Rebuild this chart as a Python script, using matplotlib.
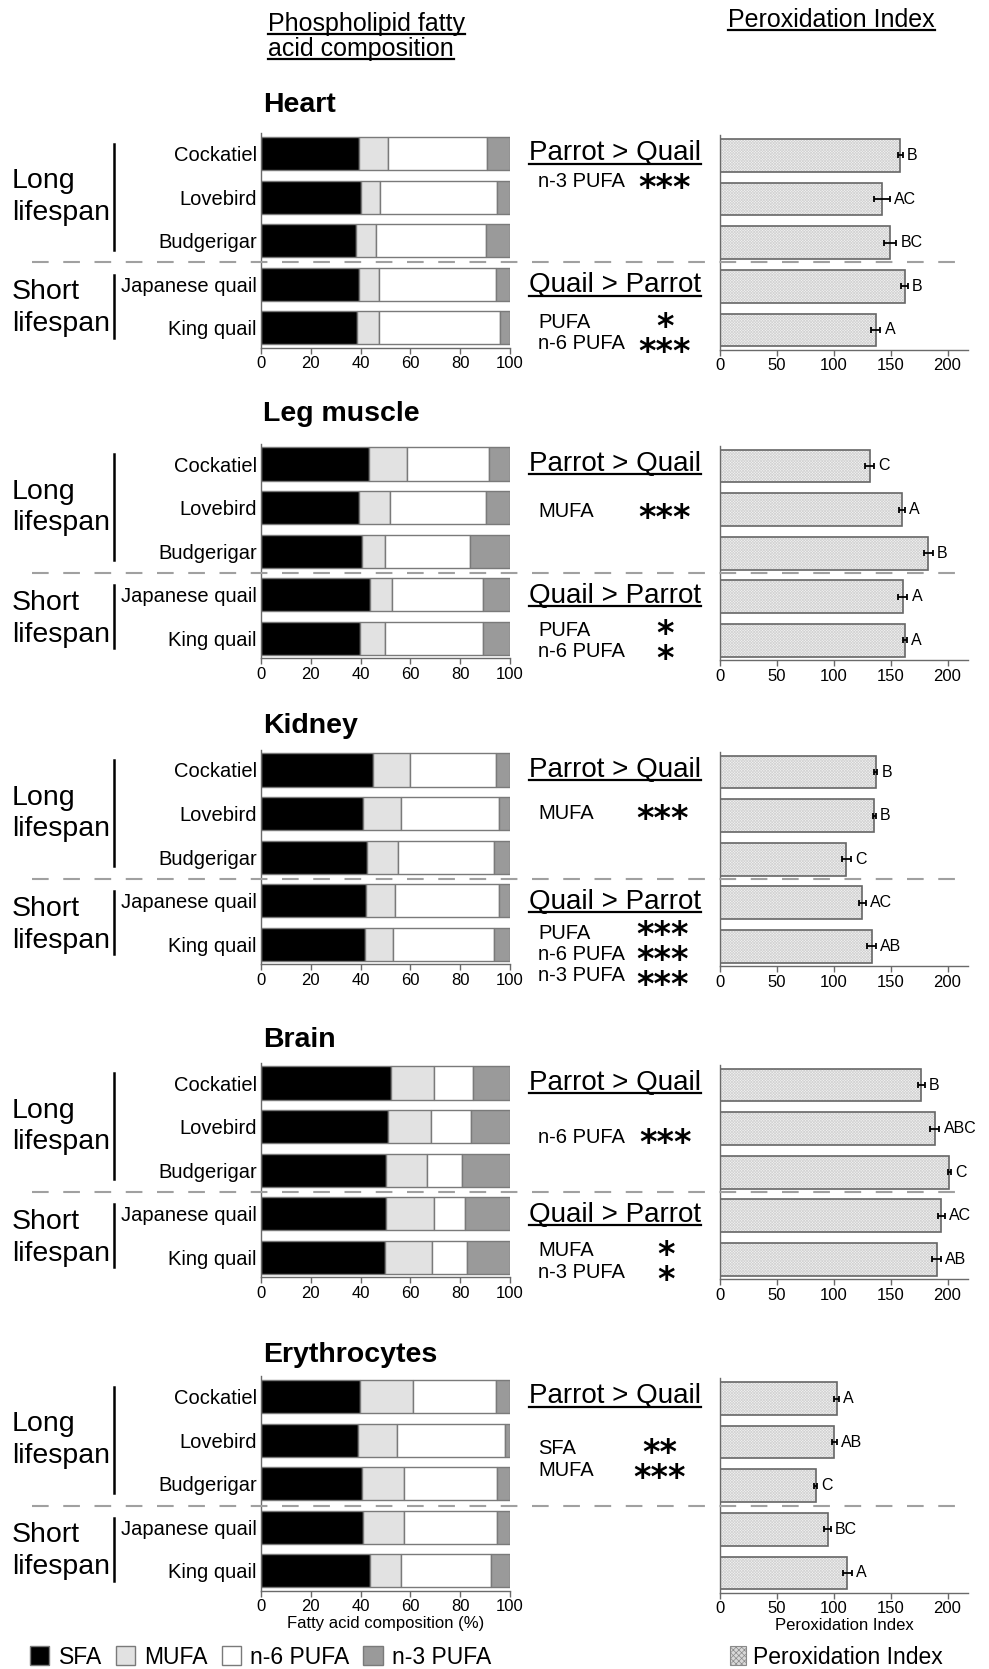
import numpy as np
import matplotlib
matplotlib.use("Agg")
import matplotlib.pyplot as plt
import matplotlib.transforms as mtransforms
from matplotlib.patches import Patch
from matplotlib.lines import Line2D

plt.rcParams['font.family'] = ['Liberation Sans', 'DejaVu Sans']
plt.rcParams['hatch.linewidth'] = 0.5

# ---- data ----
species = ["Cockatiel", "Lovebird", "Budgerigar", "Japanese quail", "King quail"]
tissues = ["Heart", "Leg muscle", "Kidney", "Brain", "Erythrocytes"]

# fatty acid composition (% of total), rows = tissues, cols = species
sfa = [[39.2, 40.3, 38.3, 39.2, 38.7],
       [43.3, 39.5, 40.5, 43.8, 39.7],
       [44.8, 41.0, 42.5, 42.3, 41.8],
       [52.3, 51.0, 50.3, 50.3, 49.7],
       [39.6, 38.9, 40.5, 40.8, 43.6]]
mufa = [[11.8, 7.6, 8.0, 8.2, 8.7],
        [15.4, 12.4, 9.4, 8.9, 10.2],
        [14.9, 15.2, 12.4, 11.4, 11.1],
        [17.3, 17.1, 16.5, 19.1, 18.9],
        [21.5, 15.9, 16.8, 16.5, 12.6]]
n6_pufa = [[39.6, 47.0, 43.9, 47.0, 48.6],
           [32.9, 38.5, 34.2, 36.4, 39.2],
           [34.5, 39.2, 38.8, 41.7, 40.8],
           [15.6, 16.3, 13.8, 12.5, 14.3],
           [33.3, 43.1, 37.6, 37.6, 36.0]]
n3_pufa = [[9.4, 5.1, 9.8, 5.6, 4.0],
           [8.4, 9.6, 15.9, 10.9, 10.9],
           [5.8, 4.6, 6.3, 4.6, 6.3],
           [14.8, 15.6, 19.4, 18.1, 17.1],
           [5.6, 2.1, 5.1, 5.1, 7.8]]

# peroxidation index, mean and error
pi_mean = [[158.6, 142.0, 149.6, 162.3, 137.0],
           [131.7, 159.7, 183.0, 160.8, 162.5],
           [136.7, 135.6, 111.0, 125.0, 133.3],
           [177.0, 188.8, 201.7, 194.4, 190.5],
           [102.6, 100.6, 84.0, 94.5, 111.9]]
pi_err = [[2, 7, 5.5, 3, 4],
          [4, 2.5, 4, 4, 2],
          [1.5, 1.5, 4, 3, 4],
          [3, 4, 1, 3, 4],
          [2, 2, 1, 3, 4]]
pi_letters = [["B", "AC", "BC", "B", "A"],
              ["C", "A", "B", "A", "A"],
              ["B", "B", "C", "AC", "AB"],
              ["B", "ABC", "C", "AC", "AB"],
              ["A", "AB", "C", "BC", "A"]]

# significant differences
parrot_gt_quail = [[("n-3 PUFA", "***")],
                   [("MUFA", "***")],
                   [("MUFA", "***")],
                   [("n-6 PUFA", "***")],
                   [("SFA", "**"), ("MUFA", "***")]]
quail_gt_parrot = [[("PUFA", "*"), ("n-6 PUFA", "***")],
                   [("PUFA", "*"), ("n-6 PUFA", "*")],
                   [("PUFA", "***"), ("n-6 PUFA", "***"), ("n-3 PUFA", "***")],
                   [("MUFA", "*"), ("n-3 PUFA", "*")],
                   []]

fa_names = ["SFA", "MUFA", "n-6 PUFA", "n-3 PUFA"]
fa_colors = ["black", "#e2e2e2", "white", "#9a9a9a"]

# ---- layout (pixels) ----
W, H = 989, 1669
row0 = [153.5, 464, 770, 1083, 1396.5]
pitch = 43.6
title_row = [-0.95, -0.99, -0.85, -0.83, -0.79]
pq_item_row = [0.65, 1.1, 1.0, 1.24, 1.18]
qp_item_row = [3.86, 3.8, 3.7, 3.83, 3.8]
item_step = 0.53
star_x = [665, 665, 663, 666, 660]

fig = plt.figure(figsize=(W / 100, H / 100), dpi=100)
underlined = []


def style_axis(ax):
    for s in ["top", "right"]:
        ax.spines[s].set_visible(False)
    for s in ["left", "bottom"]:
        ax.spines[s].set_color("#6a6a6a")
        ax.spines[s].set_linewidth(1.0)
    ax.tick_params(axis="x", length=4, width=1, color="#6a6a6a",
                   labelsize=12, pad=2)


def sig_block(items, first_row, xs, tr):
    # names and stars as two multi-line texts, one line per item
    n = len(items)
    yc = first_row + item_step * (n - 1) / 2
    step_px = item_step * pitch
    names = "\n".join(name for name, _ in items)
    stars = "\n".join(s for _, s in items)
    fig.text(538 / W, yc, names, transform=tr, fontsize=14.5, va="center",
             ha="left", linespacing=step_px / (14.5 * 100 / 72))
    fig.text(xs / W, yc, stars, transform=mtransforms.offset_copy(
        tr, fig=fig, y=-4.5, units="points"), fontsize=24,
        family="DejaVu Sans", fontweight="bold", va="center", ha="center",
        multialignment="center", linespacing=step_px / (24 * 100 / 72))


ypos = np.arange(len(species))

for i, tissue in enumerate(tissues):
    top = row0[i] - 0.47 * pitch
    bottom = row0[i] + 4.46 * pitch
    axL = fig.add_axes([261 / W, 1 - bottom / H, 249 / W, (bottom - top) / H])
    axR = fig.add_axes([720 / W, 1 - (bottom + 2) / H, 248 / W, (bottom - top) / H])

    # stacked composition bars
    left = np.zeros(len(species))
    for vals, col in zip([sfa[i], mufa[i], n6_pufa[i], n3_pufa[i]], fa_colors):
        axL.barh(ypos, vals, left=left, height=0.76, color=col,
                 edgecolor="#7a7a7a", linewidth=1.0)
        left += np.array(vals)
    axL.set_xlim(0, 100)
    axL.set_ylim(4.46, -0.47)
    axL.set_xticks([0, 20, 40, 60, 80, 100])
    axL.set_yticks(ypos)
    axL.set_yticklabels(species, fontsize=14.5)
    axL.tick_params(axis="y", length=0, pad=3)
    style_axis(axL)

    # peroxidation index bars
    axR.barh(ypos, pi_mean[i], height=0.75, color="#f3f3f3",
             edgecolor="#d2d2d2", linewidth=0, hatch="x" * 12)
    axR.barh(ypos, pi_mean[i], height=0.75, fill=False,
             edgecolor="#666666", linewidth=1.2)
    axR.errorbar(pi_mean[i], ypos, xerr=pi_err[i], fmt="none",
                 ecolor="black", elinewidth=1.3, capsize=2, capthick=1.3)
    for y, m, e, lab in zip(ypos, pi_mean[i], pi_err[i], pi_letters[i]):
        axR.annotate(lab, xy=(m + e, y), xytext=(3, 0),
                     textcoords="offset points", va="center", ha="left",
                     fontsize=11.5)
    axR.set_xlim(0, 218)
    axR.set_ylim(4.46, -0.47)
    axR.set_xticks([0, 50, 100, 150, 200])
    axR.set_yticks([])
    style_axis(axR)

    if i == len(tissues) - 1:
        axL.set_xlabel("Fatty acid composition (%)", fontsize=12, labelpad=1)
        axR.set_xlabel("Peroxidation Index", fontsize=12, labelpad=1)

    tr = mtransforms.blended_transform_factory(fig.transFigure, axL.transData)

    # tissue title
    fig.text(263 / W, title_row[i], tissue, transform=tr, fontsize=20.5,
             fontweight="bold", va="baseline", ha="left")

    # lifespan groups
    fig.text(12 / W, 1.0, "Long\nlifespan", transform=tr, fontsize=20.5,
             va="center", ha="left", linespacing=1.28)
    fig.text(12 / W, 3.55, "Short\nlifespan", transform=tr, fontsize=20.5,
             va="center", ha="left", linespacing=1.28)
    fig.add_artist(Line2D([114 / W, 114 / W], [-0.22, 2.21], transform=tr,
                          color="black", lw=1.8))
    fig.add_artist(Line2D([114 / W, 114 / W], [2.78, 4.23], transform=tr,
                          color="black", lw=1.8))

    # separator
    fig.add_artist(Line2D([32 / W, 963 / W], [2.5, 2.5], transform=tr,
                          color="#a0a0a0", lw=1.5, dashes=(8, 7)))

    # significance text
    t = fig.text(529 / W, 0.15, "Parrot > Quail", transform=tr, fontsize=20,
                 va="baseline", ha="left")
    underlined.append(t)
    sig_block(parrot_gt_quail[i], pq_item_row[i], star_x[i], tr)
    if quail_gt_parrot[i]:
        t = fig.text(529 / W, 3.18, "Quail > Parrot", transform=tr,
                     fontsize=20, va="baseline", ha="left")
        underlined.append(t)
        sig_block(quail_gt_parrot[i], qp_item_row[i], star_x[i], tr)

# column headers
for s, x, y in [("Phospholipid fatty", 268, 31), ("acid composition", 268, 56),
                ("Peroxidation Index", 728, 27)]:
    t = fig.text(x / W, 1 - y / H, s, fontsize=18, va="baseline", ha="left")
    underlined.append(t)

# legends
handles = [Patch(facecolor=c, edgecolor="#7a7a7a", linewidth=1.0) for c in fa_colors]
fig.legend(handles, fa_names, loc="center left",
           bbox_to_anchor=(30 / W, 1 - 1657 / H), ncol=4, frameon=False,
           fontsize=16.5, handlelength=0.85, handleheight=0.85,
           handletextpad=0.4, columnspacing=0.6, borderpad=0,
           borderaxespad=0)
fig.legend([Patch(facecolor="#d8d8d8", edgecolor="#8a8a8a", hatch="xxxxxx",
                  linewidth=0.8)], ["Peroxidation Index"], loc="center left",
           bbox_to_anchor=(730 / W, 1 - 1657 / H), frameon=False,
           fontsize=16.5, handlelength=0.7, handleheight=0.85,
           handletextpad=0.3, borderpad=0, borderaxespad=0)

# underline the headings
fig.canvas.draw()
renderer = fig.canvas.get_renderer()
for t in underlined:
    bb = t.get_window_extent(renderer)
    base = t.get_transform().transform(t.get_position())[1]
    yline = (base - 3.5) / H
    fig.add_artist(Line2D([bb.x0 / W, bb.x1 / W], [yline, yline],
                          transform=fig.transFigure, color="black", lw=1.6))

fig.savefig("out.png", dpi=100)
